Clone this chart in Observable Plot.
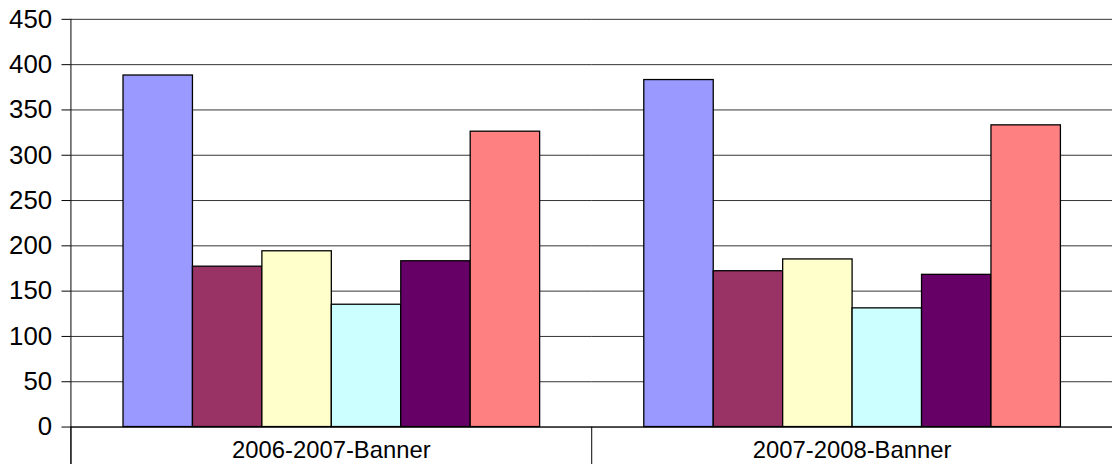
<!DOCTYPE html>
<html>
<head>
<meta charset="utf-8">
<script src="https://cdn.jsdelivr.net/npm/d3@7"></script>
<script src="https://cdn.jsdelivr.net/npm/@observablehq/plot@0.6"></script>
<style>
  html, body { margin: 0; padding: 0; background: #fff; overflow: hidden; }
  #chart svg { display: block; }
</style>
</head>
<body>
<div id="chart"></div>
<script>
// Yearly banner counts, six series per academic year
const categories = ["2006-2007-Banner", "2007-2008-Banner"];
const seriesNames = ["Series 1", "Series 2", "Series 3", "Series 4", "Series 5", "Series 6"];
const values2006 = [388, 177, 194, 135, 183, 326];
const values2007 = [383, 172, 185, 131, 168, 333];
const seriesColors = ["#9999FF", "#993366", "#FFFFCC", "#CCFFFF", "#660066", "#FF8080"];
const yTicks = [0, 50, 100, 150, 200, 250, 300, 350, 400, 450];

const rows = [];
[values2006, values2007].forEach((vals, ci) => {
  vals.forEach((v, si) => rows.push({category: categories[ci], series: seriesNames[si], value: v}));
});

const font = "'Liberation Sans', Arial, sans-serif";

const W = 1121, H = 468;
const M = {top: 19, right: 0, bottom: 38, left: 70};
const plotHeight = H - M.top - M.bottom;

const chart = Plot.plot({
  width: W,
  height: H,
  marginLeft: M.left,
  marginRight: M.right,
  marginTop: M.top,
  marginBottom: M.bottom,
  style: {fontFamily: font, background: "#fff", color: "#000"},
  fx: {domain: categories, padding: 0},
  x: {domain: seriesNames, paddingInner: 0, paddingOuter: 0.75, axis: null},
  y: {domain: [0, 450], axis: null},
  color: {domain: seriesNames, range: seriesColors},
  marks: [
    Plot.gridY(yTicks, {stroke: "#333", strokeOpacity: 1, strokeWidth: 1}),
    Plot.barY(rows, {
      fx: "category",
      x: "series",
      y: "value",
      fill: "series",
      stroke: "#000",
      strokeWidth: 1.3
    }),
    Plot.ruleY([0], {stroke: "#000", strokeWidth: 1}),
    // value axis line, running down past the baseline
    Plot.frame({anchor: "left", facetAnchor: "left", insetBottom: -M.bottom, stroke: "#000"}),
    // category separators below the baseline
    Plot.frame({anchor: "left", insetTop: plotHeight, insetBottom: -M.bottom, stroke: "#000"}),
    Plot.axisY(yTicks, {
      tickSize: 9,
      tickPadding: 10,
      fontSize: 26,
      label: null,
      stroke: "#000",
      facetAnchor: "left"
    }),
    Plot.axisFx({
      anchor: "bottom",
      tickSize: 0,
      tickPadding: 14,
      fontSize: 24,
      label: null
    })
  ]
});

document.getElementById("chart").appendChild(chart);
</script>
</body>
</html>
